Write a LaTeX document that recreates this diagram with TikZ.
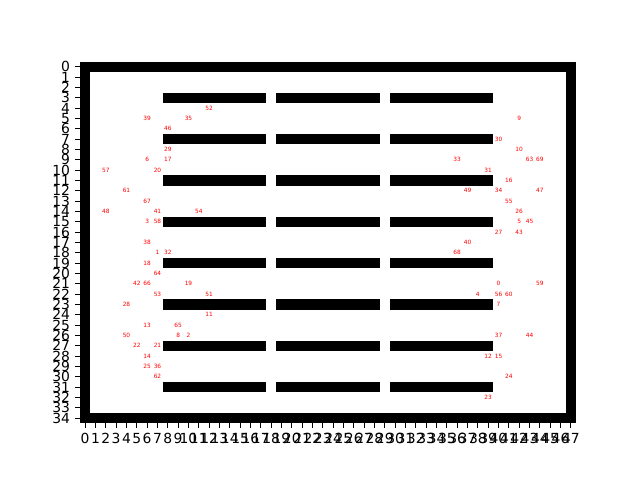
\documentclass[tikz,border=0pt]{standalone}
\usepackage{fontspec}
\setmainfont{DejaVu Sans}
\begin{document}
\begin{tikzpicture}[x=7.44pt,y=-7.44pt,
  lbl/.style={text=red, font=\fontsize{4.2}{4.2}\selectfont, inner sep=0pt, anchor=center},
  tickline/.style={line width=0.8pt, black},
  ticklbl/.style={font=\fontsize{10}{12}\selectfont, inner sep=0pt},
  shelf/.style={fill=black}]
\useasboundingbox (-8.242,-6.461) rectangle (53.694,39.990);
% grid image
\fill[black] (-0.5,-0.5) rectangle (47.5,34.5);
\fill[white] (0.5,0.5) rectangle (46.5,33.5);
\foreach \r in {3,7,...,31} {
  \foreach \a/\b in {7.5/17.5, 18.5/28.5, 29.5/39.5} {
    \path[shelf] (\a,\r-0.5) rectangle (\b,\r+0.5);
  }
}
% x ticks
\foreach \c in {0,...,47} {
  \coordinate (xb\c) at (\c,34.5);
  \draw[tickline] (xb\c) -- ++(0pt,-3.5pt);
  \node[ticklbl, anchor=north] (xt\c) at ([yshift=-7.3pt]xb\c) {\c};
}
% y ticks
\foreach \r in {0,...,34} {
  \coordinate (yb\r) at (-0.5,\r);
  \draw[tickline] (yb\r) -- ++(-3.5pt,0pt);
  \node[ticklbl, anchor=east] (yt\r) at ([xshift=-7pt]yb\r) {\r};
}
% labels
\foreach \n/\c/\r in {0/40/21, 1/7/18, 2/10/26, 3/6/15, 4/38/22, 5/42/15, 6/6/9, 7/40/23, 8/9/26, 9/42/5,
  10/42/8, 11/12/24, 12/39/28, 13/6/25, 14/6/28, 15/40/28, 16/41/11, 17/8/9, 18/6/19, 19/10/21,
  20/7/10, 21/7/27, 22/5/27, 23/39/32, 24/41/30, 25/6/29, 26/42/14, 27/40/16, 28/4/23, 29/8/8,
  30/40/7, 31/39/10, 32/8/18, 33/36/9, 34/40/12, 35/10/5, 36/7/29, 37/40/26, 38/6/17, 39/6/5,
  40/37/17, 41/7/14, 42/5/21, 43/42/16, 44/43/26, 45/43/15, 46/8/6, 47/44/12, 48/2/14, 49/37/12,
  50/4/26, 51/12/22, 52/12/4, 53/7/22, 54/11/14, 55/41/13, 56/40/22, 57/2/10, 58/7/15, 59/44/21,
  60/41/22, 61/4/12, 62/7/30, 63/43/9, 64/7/20, 65/9/25, 66/6/21, 67/6/13, 68/36/18, 69/44/9} {
  \node[lbl] (n\n) at (\c,\r) {\n};
}
\end{tikzpicture}
\end{document}
